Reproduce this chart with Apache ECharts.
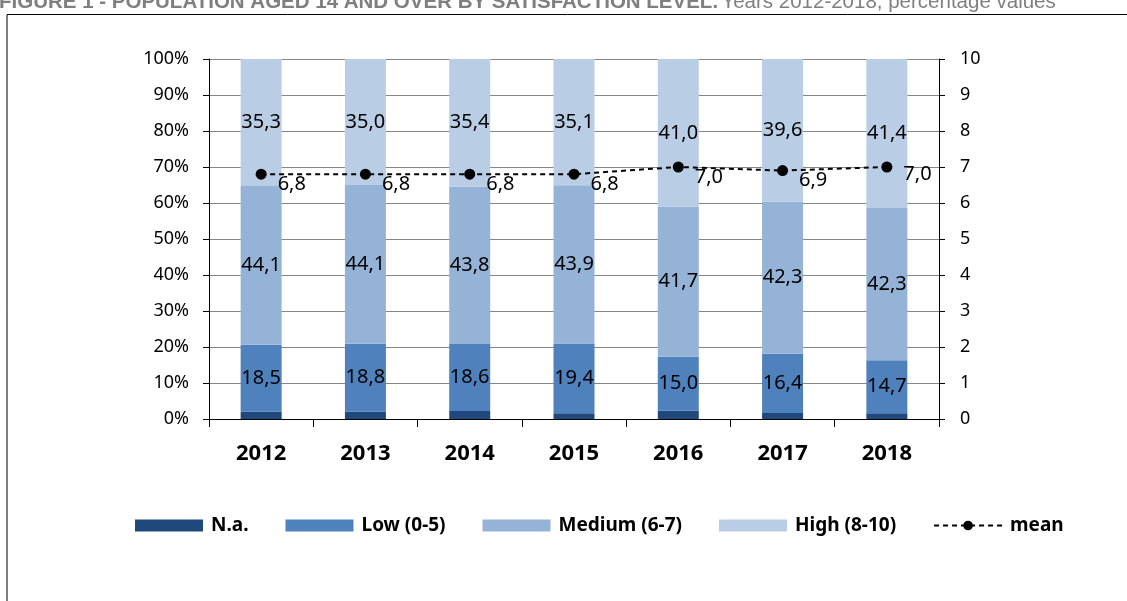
<!DOCTYPE html>
<html>
<head>
<meta charset="utf-8">
<script src="https://cdn.jsdelivr.net/npm/echarts@6/dist/echarts.min.js"></script>
<style>html,body{margin:0;padding:0;background:#fff}#c{width:1127px;height:601px}</style>
</head>
<body>
<div id="c"></div>
<script>
const categories = ['2012','2013','2014','2015','2016','2017','2018'];
const naValues = [2.1, 2.1, 2.2, 1.6, 2.3, 1.7, 1.6];
const lowValues = [18.5, 18.8, 18.6, 19.4, 15.0, 16.4, 14.7];
const mediumValues = [44.1, 44.1, 43.8, 43.9, 41.7, 42.3, 42.3];
const highValues = [35.3, 35.0, 35.4, 35.1, 41.0, 39.6, 41.4];
const meanValues = [6.8, 6.8, 6.8, 6.8, 7.0, 6.9, 7.0];
const leftTicks = [0, 100, 10];
const rightTicks = [0, 10, 1];

const fmt = v => Number(v).toFixed(1).replace('.', ',');
const labelFont = "'Noto Sans', 'Open Sans', sans-serif";

function barSeries(name, data, color, showLabel) {
  return {
    name, type: 'bar', stack: 'total', data, barWidth: 41,
    itemStyle: { color },
    label: {
      show: showLabel, position: 'inside', color: '#000',
      fontFamily: labelFont, fontSize: 20,
      formatter: p => fmt(p.value)
    },
    emphasis: { disabled: true }
  };
}

const chart = echarts.init(document.getElementById('c'));
chart.setOption({
  animation: false,
  backgroundColor: '#fff',
  graphic: [
    { type: 'rect', shape: { x: 7, y: 14.5, width: 1150, height: 620 },
      style: { fill: 'none', stroke: '#000', lineWidth: 1 } },
    { type: 'text', left: -1, top: -8,
      style: {
        text: '{b|FIGURE 1 - POPULATION AGED 14 AND OVER BY SATISFACTION LEVEL.} {n|Years 2012-2018, percentage values}',
        rich: {
          b: { fontFamily: "'Liberation Sans', Arial", fontWeight: 'bold', fontSize: 20.5, fill: '#7f7f7f' },
          n: { fontFamily: "'Liberation Sans', Arial", fontSize: 20.5, fill: '#7f7f7f' }
        }
      } }
  ],
  grid: { left: 209, right: 188, top: 59, bottom: 182, containLabel: false },
  legend: {
    left: 130, top: 511, itemWidth: 68, itemHeight: 12, itemGap: 37,
    textStyle: { fontFamily: labelFont, fontSize: 19, fontWeight: 'bold', color: '#000', padding: [0, 0, 0, 3] },
    data: [
      { name: 'N.a.', icon: 'rect' },
      { name: 'Low (0-5)', icon: 'rect' },
      { name: 'Medium (6-7)', icon: 'rect' },
      { name: 'High (8-10)', icon: 'rect' },
      { name: 'mean' }
    ]
  },
  xAxis: {
    type: 'category', data: categories, boundaryGap: true,
    axisLine: { show: true, lineStyle: { color: '#000', width: 1 } },
    axisTick: { show: true, alignWithLabel: false, length: 8, lineStyle: { color: '#000' } },
    axisLabel: { fontFamily: labelFont, fontSize: 22, fontWeight: 'bold', color: '#000', margin: 24 }
  },
  yAxis: [
    {
      type: 'value', min: leftTicks[0], max: leftTicks[1], interval: leftTicks[2],
      axisLine: { show: true, lineStyle: { color: '#000' } },
      axisTick: { show: true, length: 6, lineStyle: { color: '#000' } },
      axisLabel: { fontFamily: labelFont, fontSize: 18, color: '#000', margin: 20, formatter: '{value}%' },
      splitLine: { show: true, lineStyle: { color: '#868686', width: 1 } }
    },
    {
      type: 'value', min: rightTicks[0], max: rightTicks[1], interval: rightTicks[2], position: 'right',
      axisLine: { show: true, lineStyle: { color: '#000' } },
      axisTick: { show: true, length: 6, lineStyle: { color: '#000' } },
      axisLabel: { fontFamily: labelFont, fontSize: 18, color: '#000', margin: 21 },
      splitLine: { show: false }
    }
  ],
  series: [
    barSeries('N.a.', naValues, '#1f497d', false),
    barSeries('Low (0-5)', lowValues, '#4f81bd', true),
    barSeries('Medium (6-7)', mediumValues, '#95b3d7', true),
    barSeries('High (8-10)', highValues, '#b9cde5', true),
    {
      name: 'mean', type: 'line', yAxisIndex: 1, z: 10,
      data: meanValues.map((v, i) => i === meanValues.length - 1
        ? { value: v, label: { offset: [0, 7] } } : v),
      symbol: 'circle', symbolSize: 11,
      itemStyle: { color: '#000' },
      lineStyle: { color: '#000', width: 2, type: [5, 4] },
      label: {
        show: true, position: 'right', distance: 11, offset: [0, 10],
        color: '#000', fontFamily: labelFont, fontSize: 20,
        formatter: p => fmt(p.value)
      },
      emphasis: { disabled: true }
    }
  ]
});
</script>
</body>
</html>
